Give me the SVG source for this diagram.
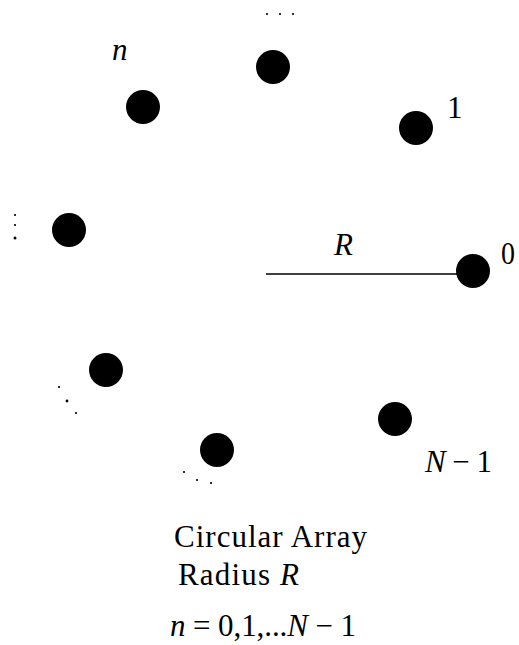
<svg xmlns="http://www.w3.org/2000/svg" width="519" height="645" viewBox="0 0 519 645">
<style>
.el{fill:#000}
.dot{fill:#000}
.t{font-family:"Liberation Serif","Times New Roman",serif;font-size:31px;fill:#000}
.i{font-style:italic}
.ln{stroke:#000;stroke-width:1.6;fill:none}
</style>
<rect width="519" height="645" fill="#fff"/>
<g id="connectors">
<line class="ln" x1="266" y1="274" x2="470" y2="274"/>
</g>
<g id="element-0"><circle class="el" cx="473" cy="271" r="17"/><text class="t" x="501" y="264" textLength="14" lengthAdjust="spacingAndGlyphs">0</text></g>
<g id="element-1"><circle class="el" cx="416" cy="128" r="17"/><text class="t" x="447" y="118">1</text></g>
<g id="element-top"><circle class="el" cx="273" cy="67" r="17"/>
<circle class="dot" cx="267" cy="14" r="1.1"/><circle class="dot" cx="280" cy="14" r="1.1"/><circle class="dot" cx="293" cy="14" r="1.1"/></g>
<g id="element-n"><circle class="el" cx="143" cy="107" r="17"/><text class="t i" x="112" y="60">n</text></g>
<g id="element-left"><circle class="el" cx="69" cy="230" r="17"/>
<circle class="dot" cx="15" cy="215" r="1.1"/><circle class="dot" cx="15" cy="225" r="1.1"/><circle class="dot" cx="15" cy="238" r="1.5"/></g>
<g id="element-lowerleft"><circle class="el" cx="106" cy="370" r="17"/>
<circle class="dot" cx="59" cy="387" r="1.1"/><circle class="dot" cx="67" cy="401" r="1.4"/><circle class="dot" cx="76" cy="413" r="1.1"/></g>
<g id="element-bottom"><circle class="el" cx="217" cy="450" r="17"/>
<circle class="dot" cx="184" cy="472" r="1.1"/><circle class="dot" cx="197" cy="480" r="1.1"/><circle class="dot" cx="211" cy="483" r="1.1"/></g>
<g id="element-N-1"><circle class="el" cx="395" cy="419" r="17"/><text class="t" x="425" y="472" textLength="67" lengthAdjust="spacing"><tspan class="i">N</tspan> − 1</text></g>
<g id="radius-label"><text class="t i" x="334" y="255">R</text></g>
<g id="caption">
<text class="t" x="174" y="547" textLength="193" lengthAdjust="spacing">Circular Array</text>
<text class="t" x="178" y="585" textLength="121" lengthAdjust="spacing">Radius <tspan class="i">R</tspan></text>
<text class="t" x="170" y="636" textLength="186" lengthAdjust="spacing"><tspan class="i">n</tspan> = 0,1,...<tspan class="i">N</tspan> − 1</text>
</g>
</svg>
